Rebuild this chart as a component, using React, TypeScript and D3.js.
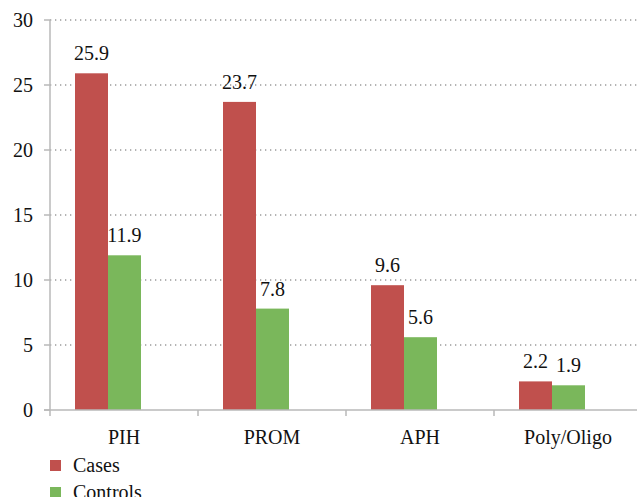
import React, { useEffect, useRef } from "react";
import * as d3 from "d3";

const categories = ["PIH", "PROM", "APH", "Poly/Oligo"];
const cases = [25.9, 23.7, 9.6, 2.2];
const controls = [11.9, 7.8, 5.6, 1.9];
const seriesNames = ["Cases", "Controls"];
const seriesColors = ["#C0504D", "#7AB75B"];
const yTicks = [0, 5, 10, 15, 20, 25, 30];

const App: React.FC = () => {
  const svgRef = useRef<SVGSVGElement>(null);

  useEffect(() => {
    if (!svgRef.current) return;
    const svg = d3.select(svgRef.current);
    svg.selectAll("*").remove();

    const left = 50;
    const top = 20;
    const bottom = 410;
    const bandW = 148;

    const y = d3.scaleLinear().domain([0, 30]).range([bottom, top]);
    const x = d3.scaleBand<string>()
      .domain(categories)
      .range([left, left + bandW * categories.length]);
    const barW = 33;
    const groupOffset = -16; // bars sit left of the category center

    // gridlines
    svg.append("g")
      .selectAll("line")
      .data(yTicks.filter(t => t > 0))
      .enter()
      .append("line")
      .attr("x1", left)
      .attr("x2", 637)
      .attr("y1", d => y(d))
      .attr("y2", d => y(d))
      .attr("stroke", "#9a9a9a")
      .attr("stroke-width", 1.3)
      .attr("stroke-dasharray", "1.3,3.7");

    // y tick marks + labels
    const yt = svg.append("g");
    yt.selectAll("line")
      .data(yTicks)
      .enter()
      .append("line")
      .attr("x1", left - 6)
      .attr("x2", left)
      .attr("y1", d => y(d))
      .attr("y2", d => y(d))
      .attr("stroke", "#b8b8b8")
      .attr("stroke-width", 1.5);
    yt.selectAll("text")
      .data(yTicks)
      .enter()
      .append("text")
      .attr("class", "lbl")
      .attr("x", 33)
      .attr("y", d => y(d) + 7)
      .attr("text-anchor", "end")
      .text(d => d);

    // bars
    const series = [cases, controls];
    series.forEach((vals, si) => {
      svg.append("g")
        .selectAll("rect")
        .data(vals)
        .enter()
        .append("rect")
        .attr("x", (d, i) => x(categories[i])! + bandW / 2 + groupOffset - barW + si * barW)
        .attr("y", d => y(d))
        .attr("width", barW)
        .attr("height", d => bottom - y(d))
        .attr("fill", seriesColors[si]);

      svg.append("g")
        .selectAll("text")
        .data(vals)
        .enter()
        .append("text")
        .attr("class", "lbl")
        .attr("x", (d, i) => x(categories[i])! + bandW / 2 + groupOffset - barW / 2 + si * barW)
        .attr("y", d => y(d) - 13)
        .attr("text-anchor", "middle")
        .text(d => d.toFixed(1));
    });

    // axes lines
    svg.append("line")
      .attr("x1", left).attr("x2", left)
      .attr("y1", top).attr("y2", bottom + 6)
      .attr("stroke", "#b8b8b8").attr("stroke-width", 1.5);
    svg.append("line")
      .attr("x1", left - 6).attr("x2", 637)
      .attr("y1", bottom).attr("y2", bottom)
      .attr("stroke", "#b8b8b8").attr("stroke-width", 1.5);

    // category ticks
    svg.append("g")
      .selectAll("line")
      .data(categories)
      .enter()
      .append("line")
      .attr("x1", d => x(d)! + bandW)
      .attr("x2", d => x(d)! + bandW)
      .attr("y1", bottom)
      .attr("y2", bottom + 6)
      .attr("stroke", "#b8b8b8")
      .attr("stroke-width", 1.5);

    // category labels
    svg.append("g")
      .selectAll("text")
      .data(categories)
      .enter()
      .append("text")
      .attr("class", "lbl")
      .attr("x", d => x(d)! + bandW / 2)
      .attr("y", 444)
      .attr("text-anchor", "middle")
      .text(d => d);

    // legend
    const lg = svg.append("g");
    seriesNames.forEach((name, i) => {
      lg.append("rect")
        .attr("x", 50)
        .attr("y", 460 + i * 27)
        .attr("width", 11)
        .attr("height", 11)
        .attr("fill", seriesColors[i]);
      lg.append("text")
        .attr("class", "lbl")
        .attr("x", 73)
        .attr("y", 472 + i * 27)
        .text(name);
    });
  }, []);

  return (
    <div style={{ position: "absolute", left: 0, top: 0 }}>
      <style>{`.lbl { font-family: "Liberation Serif", serif; font-size: 20px; fill: #111; }`}</style>
      <svg ref={svgRef} width={637} height={497} style={{ display: "block", background: "#fff" }} />
    </div>
  );
};

export default App;
